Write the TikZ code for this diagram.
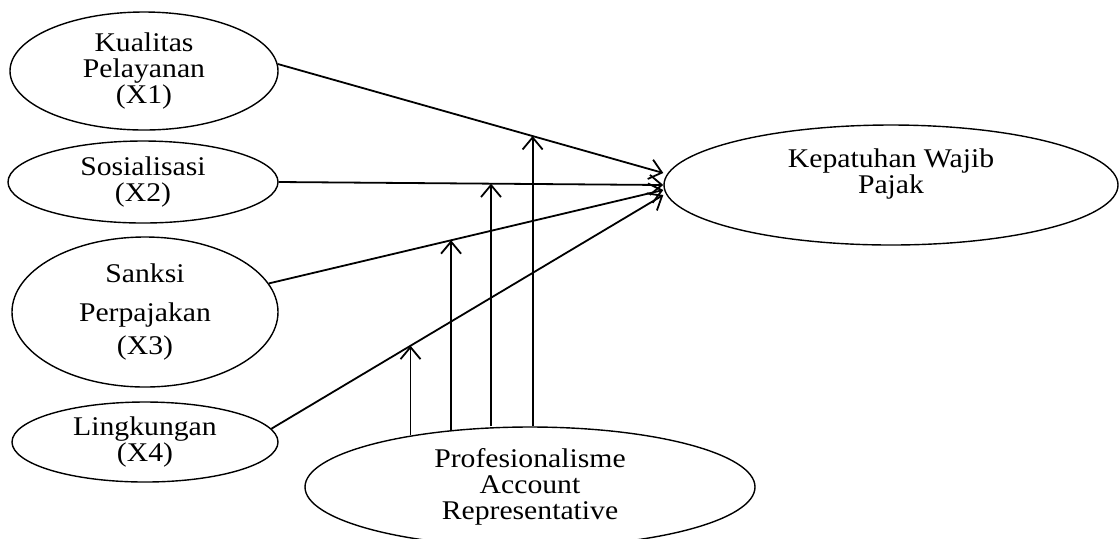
\documentclass[tikz,border=0pt]{standalone}
\usepackage{fontspec}
\setmainfont{Liberation Serif}[FakeStretch=1.1]
\usetikzlibrary{shapes.geometric,arrows.meta}

\begin{document}
\begin{tikzpicture}[x=0.5pt,y=-0.5pt,
		var/.style={draw,ellipse,line width=0.7pt,inner sep=0pt,align=center,font=\fontsize{13.5}{13}\selectfont},
		arr/.style={line width=0.9pt,-{Straight Barb[length=6pt,width=10pt]}}]
				\useasboundingbox (0,0) rectangle (1119,538);
				\node[var,minimum width=134pt,minimum height=59pt] (X1) at (144,71) {Kualitas\\Pelayanan\\(X1)};
				\node[var,minimum width=135pt,minimum height=41pt] (X2) at (143,182) {Sosialisasi\\(X2)};
				\node[var,minimum width=133pt,minimum height=75pt] (X3) at (145,312) {Sanksi\\[6.5pt]Perpajakan\\[3.5pt](X3)};
				\node[var,minimum width=133pt,minimum height=40pt] (X4) at (145,442) {Lingkungan\\(X4)};
				\node[var,minimum width=227pt,minimum height=60pt] (Y) at (891,185) {};
				\node[align=center,inner sep=0pt,font=\fontsize{13.5}{13}\selectfont] (Ytext) at (891,174) {Kepatuhan Wajib\\Pajak};
				\node[var,minimum width=225pt,minimum height=60pt] (M) at (530,487) {Profesionalisme\\Account\\Representative};
				\draw[arr] (X1.3) -- coordinate[pos=0.661] (p1) ([yshift=6pt]Y.west);
				\draw[arr] (X2.east) -- coordinate[pos=0.552] (p2) (Y.west);
				\draw[arr] (X3.13) -- coordinate[pos=0.462] (p3) ([yshift=-2.5pt]Y.west);
				\draw[arr] (X4.6) -- coordinate[pos=0.355] (p4) ([yshift=-5pt]Y.west);
				\draw[arr] (p4 |- M.156) -- (p4);
				\draw[arr] (p3 |- M.144) -- (p3);
				\draw[arr] (p2 |- M.north) -- (p2);
				\draw[arr] (p1 |- M.north) -- (p1);
			\end{tikzpicture}
\end{document}
